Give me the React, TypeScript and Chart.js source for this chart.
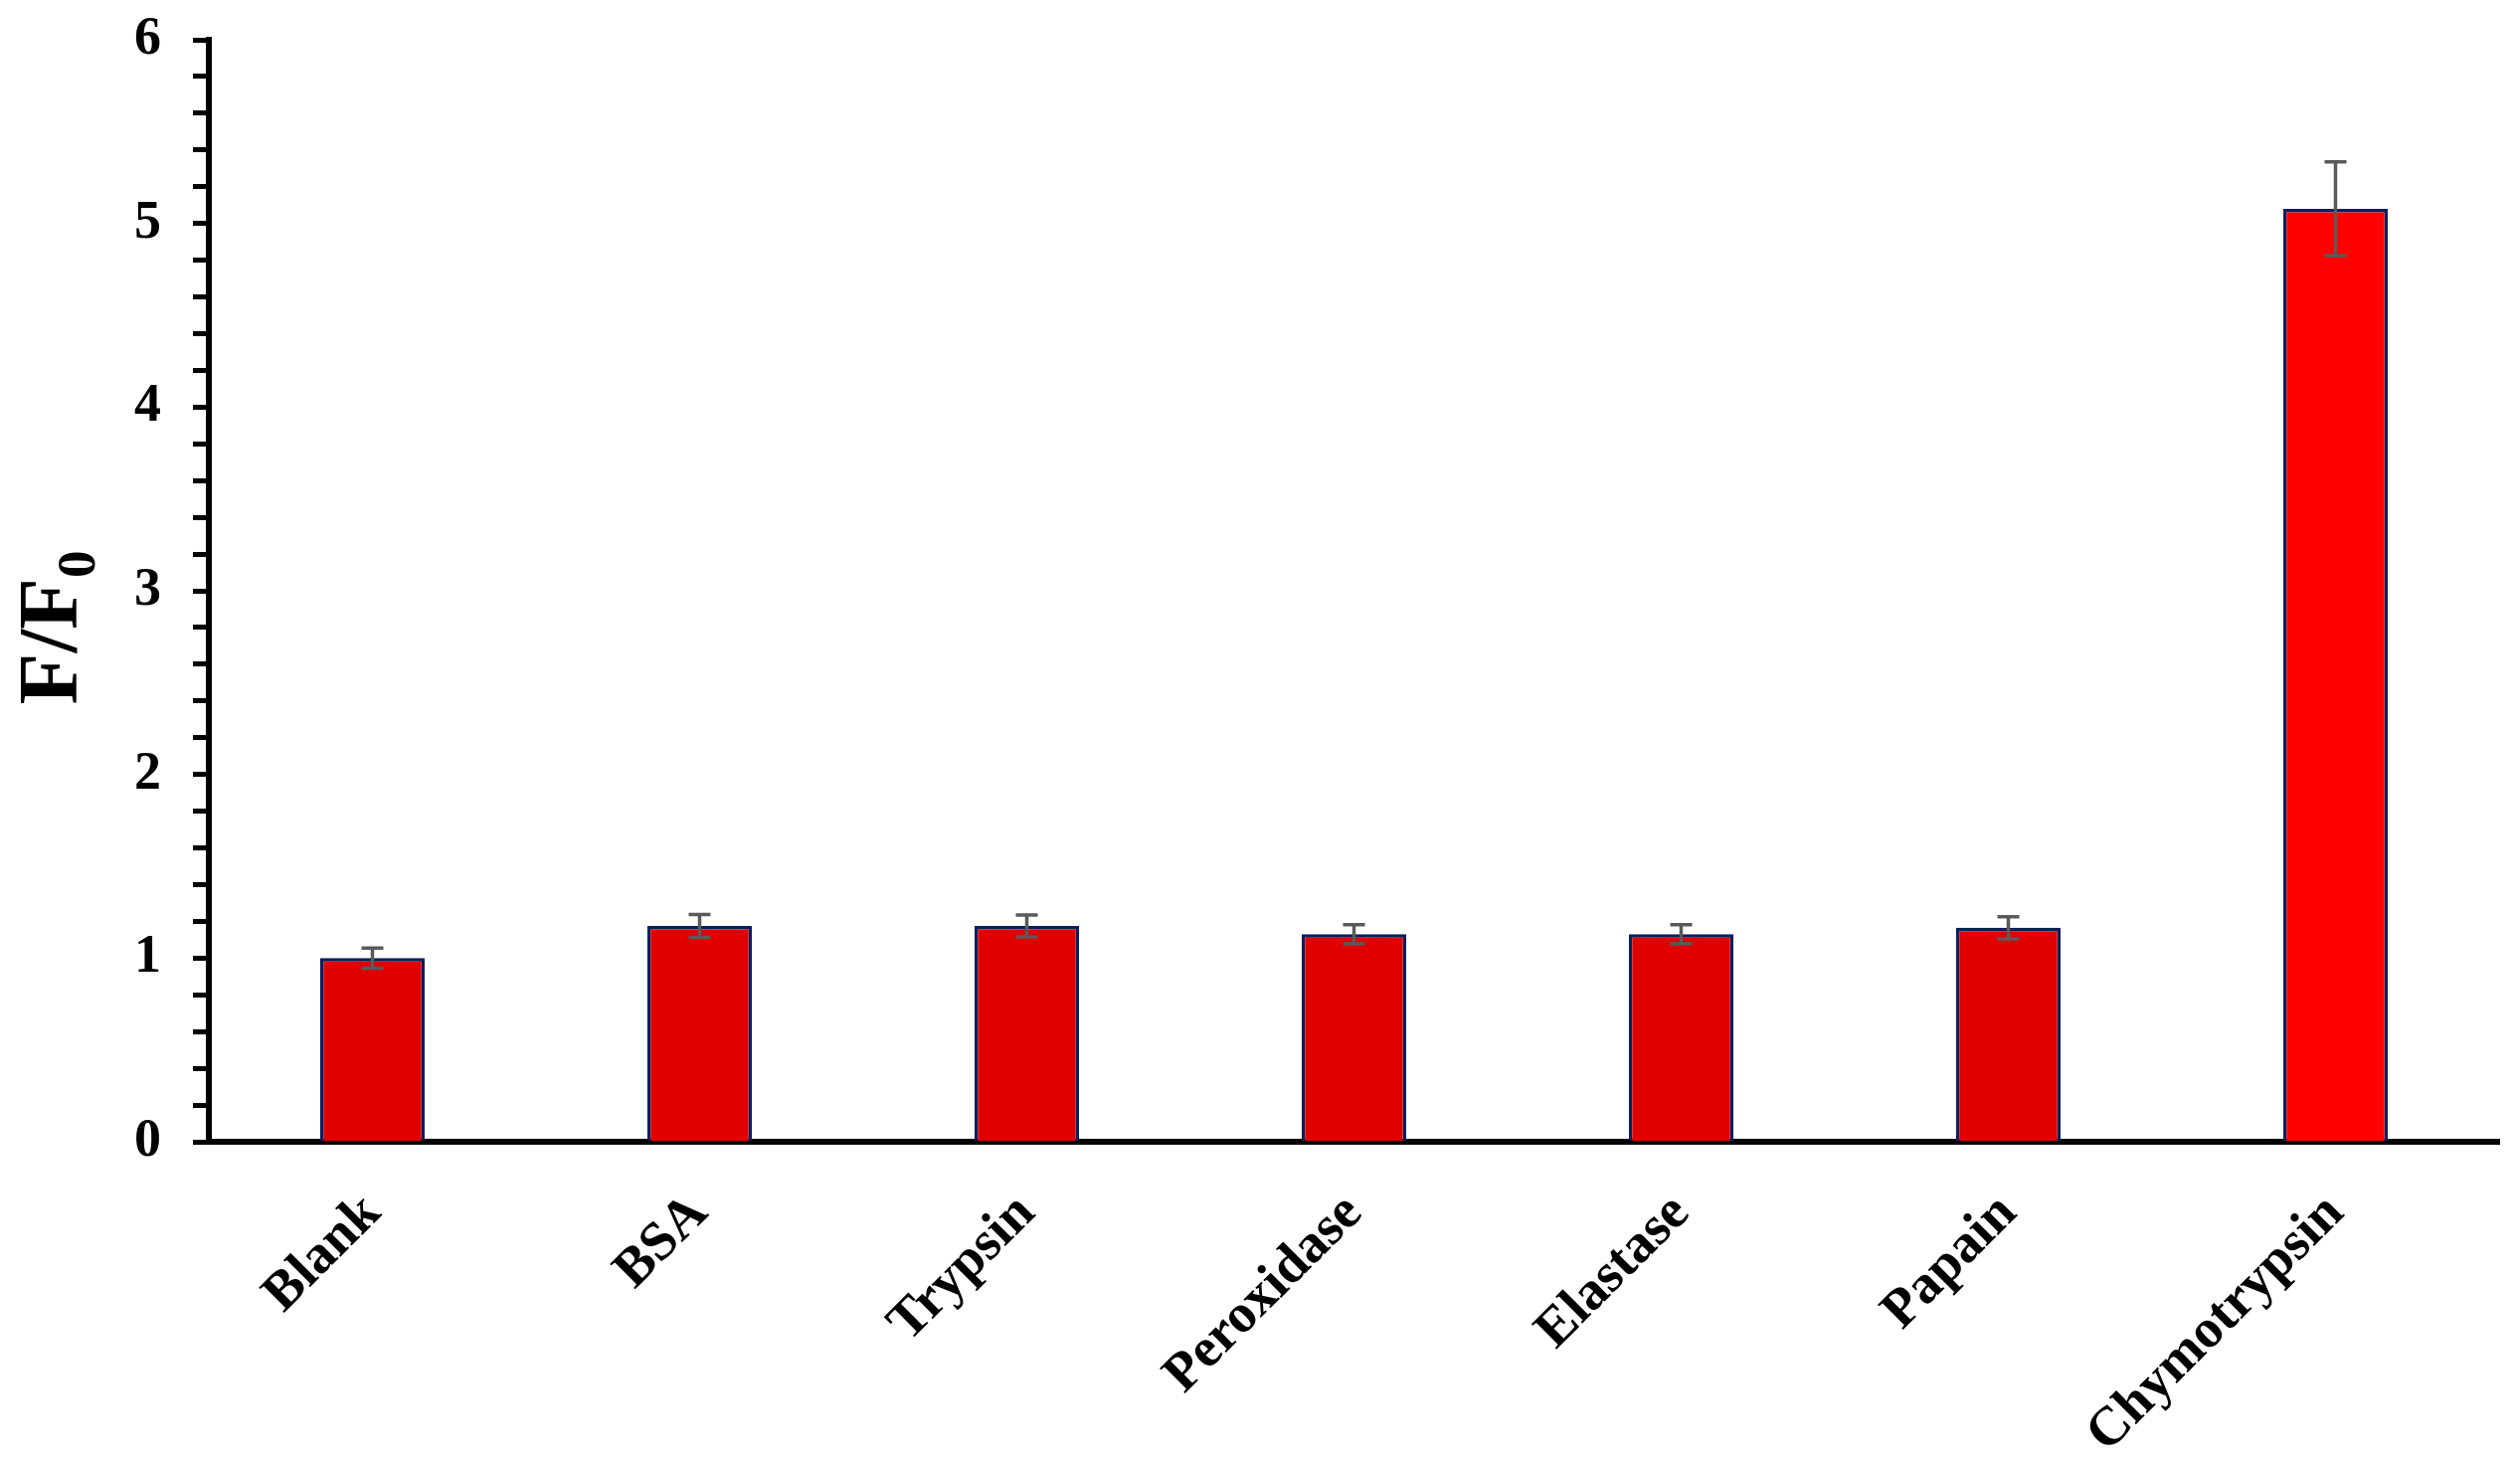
import React, { useEffect, useRef } from 'react';
import { Chart, registerables } from 'chart.js';

Chart.register(...registerables);

const categories = ['Blank', 'BSA', 'Trypsin', 'Peroxidase', 'Elastase', 'Papain', 'Chymotrypsin'];
const ratioValues = [1.0, 1.175, 1.175, 1.13, 1.13, 1.165, 5.08];
const errorValues = [0.055, 0.062, 0.06, 0.052, 0.052, 0.06, 0.255];
const barColors = ['#E00000', '#E00000', '#E00000', '#E00000', '#E00000', '#E00000', '#FF0000'];
const yTickLabels = ['0', '1', '2', '3', '4', '5', '6'];
const yTitleMain = 'F/F';
const yTitleSub = '0';

const FONT = "'Liberation Serif', 'Times New Roman', serif";

const errorBarPlugin = {
  id: 'errorBars',
  afterDatasetsDraw(chart: any) {
    const meta = chart.getDatasetMeta(0);
    const yScale = chart.scales.y;
    const ctx = chart.ctx;
    ctx.save();
    ctx.strokeStyle = '#5A5A5A';
    ctx.lineWidth = 3.5;
    meta.data.forEach((bar: any, i: number) => {
      const v = ratioValues[i];
      const e = errorValues[i];
      const x = bar.x;
      const yTop = yScale.getPixelForValue(v + e);
      const yBot = yScale.getPixelForValue(v - e);
      const cap = 11;
      ctx.beginPath();
      ctx.moveTo(x, yTop);
      ctx.lineTo(x, yBot);
      ctx.moveTo(x - cap, yTop);
      ctx.lineTo(x + cap, yTop);
      ctx.moveTo(x - cap, yBot);
      ctx.lineTo(x + cap, yBot);
      ctx.stroke();
    });
    ctx.restore();
  },
};

const yTitlePlugin = {
  id: 'yTitle',
  afterDraw(chart: any) {
    const ctx = chart.ctx;
    ctx.save();
    const mainFont = `bold 85px ${FONT}`;
    const subFont = `bold 55px ${FONT}`;
    ctx.font = mainFont;
    const wMain = ctx.measureText(yTitleMain).width;
    ctx.font = subFont;
    const wSub = ctx.measureText(yTitleSub).width;
    const total = wMain + wSub;
    const centerY = 631;
    const baselineX = 77;
    ctx.translate(baselineX, centerY);
    ctx.rotate(-Math.PI / 2);
    ctx.fillStyle = '#000';
    ctx.textBaseline = 'alphabetic';
    ctx.textAlign = 'left';
    ctx.font = mainFont;
    ctx.fillText(yTitleMain, -total / 2, 0);
    ctx.font = subFont;
    ctx.fillText(yTitleSub, -total / 2 + wMain, 18);
    ctx.restore();
  },
};

export default function App() {
  const canvasRef = useRef<HTMLCanvasElement | null>(null);

  useEffect(() => {
    if (!canvasRef.current) return;
    const chart = new Chart(canvasRef.current, {
      type: 'bar',
      data: {
        labels: categories,
        datasets: [
          {
            data: ratioValues,
            backgroundColor: barColors,
            borderColor: '#0B1F5E',
            borderWidth: 3.5,
            barPercentage: 0.32,
            categoryPercentage: 1,
          },
        ],
      },
      options: {
        animation: false,
        responsive: true,
        maintainAspectRatio: false,
        layout: { padding: { top: 40, right: 21, left: 0, bottom: 0 } },
        plugins: {
          legend: { display: false },
          tooltip: { enabled: false },
          title: { display: false },
        },
        scales: {
          x: {
            afterFit: (scale: any) => {
              scale.height = 325;
            },
            grid: { display: false, drawTicks: false },
            border: { display: true, color: '#000', width: 6 },
            ticks: {
              color: '#000',
              font: { family: FONT, size: 55, weight: 'bold' },
              minRotation: 45,
              maxRotation: 45,
              padding: 40,
              autoSkip: false,
            },
          },
          y: {
            min: 0,
            max: 6,
            afterFit: (scale: any) => {
              scale.width = 210;
              scale.paddingTop = 0;
              scale.paddingBottom = 0;
            },
            grid: {
              drawOnChartArea: false,
              drawTicks: true,
              tickLength: 16,
              tickWidth: 5,
              tickColor: '#000',
            },
            border: { display: true, color: '#000', width: 6 },
            ticks: {
              stepSize: 0.2,
              autoSkip: false,
              color: '#000',
              padding: 32,
              font: { family: FONT, size: 54, weight: 'bold' },
              callback: (value: any) => {
                const v = Number(value);
                const r = Math.round(v);
                if (Math.abs(v - r) < 1e-6) return yTickLabels[r] ?? '';
                return '';
              },
            },
          },
        },
      },
      plugins: [errorBarPlugin, yTitlePlugin],
    });
    return () => chart.destroy();
  }, []);

  return (
    <div style={{ position: 'fixed', left: 0, top: 0, width: '2534px', height: '1473px', background: '#fff' }}>
      <canvas ref={canvasRef} />
    </div>
  );
}
